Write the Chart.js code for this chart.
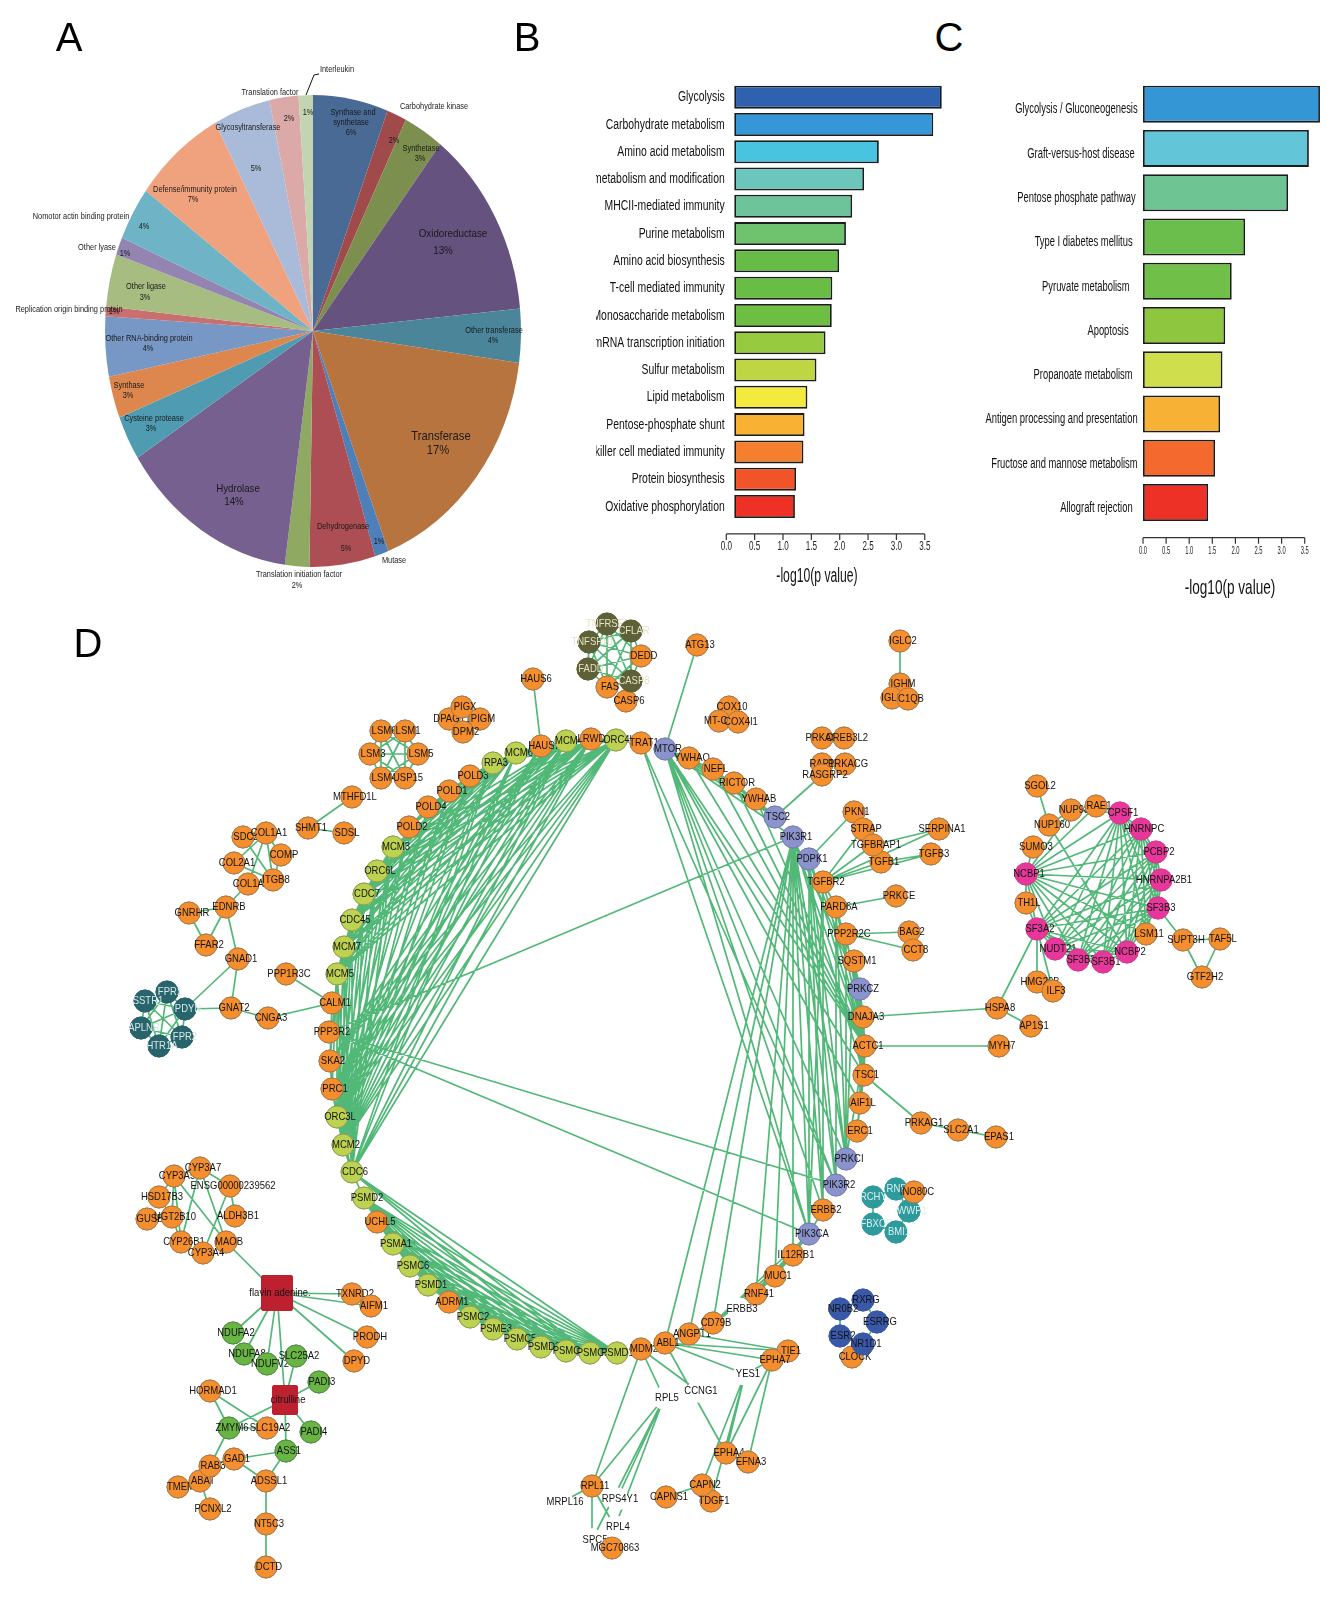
<!DOCTYPE html>
<html>
<head>
<meta charset="utf-8">
<title>Figure</title>
<script src="https://cdn.jsdelivr.net/npm/chart.js@4/dist/chart.umd.min.js"></script>
<style>
    body { margin: 0; background: #fff; }
    #page { position: relative; width: 1343px; height: 1600px; overflow: hidden; }
    canvas { position: absolute; }
    .letter { position: absolute; font: 40px "Liberation Sans", sans-serif; line-height: 40px; transform: translateX(-50%); color: #000; }
</style>
</head>
<body>
<div id="page">
    <canvas id="pieChart" width="626" height="662" style="left:0;top:0"></canvas>
    <canvas id="barB" width="349" height="540" style="left:596px;top:60px"></canvas>
    <canvas id="barC" width="370" height="560" style="left:960px;top:60px"></canvas>
    <canvas id="netChart" width="1343" height="1000" style="left:0;top:600px"></canvas>
    <div class="letter" style="left:69px;top:17px">A</div>
    <div class="letter" style="left:527px;top:17px">B</div>
    <div class="letter" style="left:949px;top:17px">C</div>
    <div class="letter" style="left:88px;top:623px">D</div>
</div>
<script>
// A - protein classes
const pieNames = ["Synthase and synthetase", "Carbohydrate kinase", "Synthetase", "Oxidoreductase", "Other transferase", "Transferase", "Mutase", "Dehydrogenase", "Translation initiation factor", "Hydrolase", "Cysteine protease", "Synthase", "Other RNA-binding protein", "Replication origin binding protein", "Other ligase", "Other lyase", "Nomotor actin binding protein", "Defense/immunity protein", "Glycosyltransferase", "Translation factor", "Interleukin"];
const pieValues = [5.83, 1.53, 3.11, 13, 3.69, 16.94, 1.06, 5.11, 1.89, 13.8, 3.06, 2.86, 4.11, 0.67, 3.58, 1.22, 3.67, 7.08, 4.42, 2.25, 1.11];
const pieColors = ["#4A6A96", "#A04A4C", "#7C8F4F", "#66527F", "#4A8599", "#B8743F", "#4F7FB8", "#AC4E53", "#8FA862", "#76608F", "#4F9CB2", "#DD874F", "#7797C4", "#C96F6F", "#A6BC80", "#9384B2", "#6FB3C6", "#F0A27E", "#A9BBD8", "#DBA9A8", "#C2D5B0"];
// text, x, y, size
const pieLabels = [
    ["Interleukin", 337, 70, 7.4], ["Translation factor", 270, 93, 7.4], ["1%", 308, 113, 7.4], ["2%", 289, 119, 7.4],
    ["Synthase and", 353, 113, 7.4], ["synthetase", 351, 123, 7.4], ["6%", 351, 133, 7.4], ["Carbohydrate kinase", 434, 107, 7.4],
    ["2%", 394, 141, 7.4], ["Synthetase", 421, 149, 7.4], ["3%", 420, 159, 7.4], ["Glycosyltransferase", 248, 128, 7.4], ["5%", 256, 169, 7.4],
    ["Oxidoreductase", 453, 234, 9.8], ["13%", 443, 251, 9.8], ["Defense/immunity protein", 195, 190, 7.4], ["7%", 193, 200, 7.4],
    ["Nomotor actin binding protein", 81, 217, 7.4], ["4%", 144, 227, 7.4], ["Other lyase", 97, 248, 7.4], ["1%", 125, 254, 7.4],
    ["Other ligase", 146, 287, 7.4], ["3%", 145, 298, 7.4], ["Replication origin binding protein", 69, 310, 7.4], ["1%", 114, 312, 7.4],
    ["Other RNA-binding protein", 149, 339, 7.4], ["4%", 148, 349, 7.4], ["Other transferase", 494, 331, 7.4], ["4%", 493, 341, 7.4],
    ["Synthase", 129, 386, 7.4], ["3%", 128, 396, 7.4], ["Cysteine protease", 154, 419, 7.4], ["3%", 151, 429, 7.4],
    ["Transferase", 441, 437, 11.2], ["17%", 438, 451, 11.2], ["Hydrolase", 238, 489, 9.7], ["14%", 234, 502, 9.7],
    ["Dehydrogenase", 343, 527, 7.4], ["5%", 346, 549, 7.4], ["1%", 379, 542, 7.4], ["Mutase", 394, 561, 7.4],
    ["Translation initiation factor", 299, 575, 7.4], ["2%", 297, 586, 7.4]
];

// B - GO terms
const goTerms = ["Glycolysis", "Carbohydrate metabolism", "Amino acid metabolism", "Protein metabolism and modification", "MHCII-mediated immunity", "Purine metabolism", "Amino acid biosynthesis", "T-cell mediated immunity", "Monosaccharide metabolism", "mRNA transcription initiation", "Sulfur metabolism", "Lipid metabolism", "Pentose-phosphate shunt", "Natural killer cell mediated immunity", "Protein biosynthesis", "Oxidative phosphorylation"];
const goValues = [3.80, 3.65, 2.69, 2.43, 2.22, 2.11, 1.99, 1.87, 1.86, 1.75, 1.59, 1.43, 1.38, 1.36, 1.23, 1.21];
const goColors = ["#2F62AE", "#3596D8", "#49C4E0", "#6CC6BC", "#6DC39A", "#6FC36E", "#66BC46", "#69BD45", "#6FBE44", "#97CA3E", "#BDD642", "#F3EA3F", "#F8B133", "#F47F2E", "#F05428", "#EE3124"];

// C - KEGG pathways
const keggTerms = ["Glycolysis / Gluconeogenesis", "Graft-versus-host disease", "Pentose phosphate pathway", "Type I diabetes mellitus", "Pyruvate metabolism", "Apoptosis", "Propanoate metabolism", "Antigen processing and presentation", "Fructose and mannose metabolism", "Allograft rejection"];
const keggValues = [3.83, 3.59, 3.14, 2.21, 1.92, 1.78, 1.72, 1.67, 1.56, 1.41];
const keggColors = ["#3596D6", "#62C6D8", "#6EC493", "#6CBE4C", "#6FBF48", "#8FC63F", "#CEDE4D", "#F7B134", "#F4692D", "#EE3127"];
const keggNudge = [0, -3, -2, -5, -8, -9, -5, 0, 0, -5];
const pTicks = [0, 0.5, 1, 1.5, 2, 2.5, 3, 3.5];

// D - network nodes: name, x, y, group
const ringNodes = [
    ["PSMD2",364,1198,"y"],["UCHL5",377,1222,"o"],["PSMA1",393,1244,"y"],["PSMC6",410,1266,"y"],["PSMD1",428,1285,"y"],["ADRM1",449,1302,"o"],["PSMC2",470,1317,"y"],["PSME3",493,1329,"y"],["PSMC5",517,1339,"y"],["PSMD3",541,1347,"y"],["PSMC1",566,1351,"y"],["PSMC3",590,1353,"y"],["PSMD10",617,1353,"y"],
    ["MDM2",641,1349,"o"],["ABL1",665,1343,"o"],["ANGPT1",689,1334,"o"],["CD79B",713,1323,"o"],
    ["CDC6",352,1172,"y"],["MCM2",343,1145,"y"],["ORC3L",337,1117,"y"],["PRC1",332,1089,"o"],["SKA2",330,1061,"o"],["PPP3R2",329,1032,"o"],["CALM1",332,1003,"o"],["MCM5",337,974,"y"],["MCM7",344,947,"y"],["CDC45",352,920,"y"],["CDC7",364,894,"y"],["ORC6L",377,871,"y"],["MCM3",393,847,"y"],["POLD2",409,827,"o"],["POLD4",428,807,"o"],["POLD1",449,791,"o"],["POLD3",470,776,"o"],["RPA3",493,763,"y"],["MCM6",516,753,"y"],["HAUS7",541,746,"o"],["MCM4",566,741,"y"],["LRWD1",591,739,"o"],["ORC4L",616,740,"y"],["TRAT1",641,743,"o"],
    ["MTOR",665,749,"l"],["YWHAQ",689,758,"o"],["NEFL",713,769,"o"],["RICTOR",734,783,"o"],["YWHAB",756,799,"o"],["TSC2",775,817,"l"],["PIK3R1",793,837,"l"],["PDPK1",809,859,"l"],["TGFBR2",823,882,"o"],["PARD6A",836,907,"o"],["PPP2R2C",846,934,"o"],["SQSTM1",854,961,"o"],["PRKCZ",860,989,"l"],["DNAJA3",863,1017,"o"],["ACTC1",865,1046,"o"],["TSC1",864,1075,"o"],["AIF1L",860,1103,"o"],["ERC1",857,1131,"o"],["PRKCI",846,1159,"l"],["PIK3R2",836,1185,"l"],["ERBB2",823,1210,"o"],["PIK3CA",809,1234,"l"],["IL12RB1",793,1255,"o"],["MUC1",775,1276,"o"],["RNF41",756,1294,"o"],["ERBB3",739,1309,"w"]
];
const topLeftNodes = [
    ["HAUS6",533,679,"o"],["DPAGT1",449,719,"o"],["PIGM",480,719,"o"],["DPM2",463,732,"o"],["PIGX",462,707,"o"],
    ["LSM6",381,731,"o"],["LSM1",405,731,"o"],["LSM3",370,754,"o"],["LSM5",418,754,"o"],["LSM4",381,778,"o"],["USP15",405,778,"o"],
    ["MTHFD1L",352,797,"o"],["SHMT1",308,828,"o"],["SDSL",344,833,"o"],["SDC2",243,837,"o"],["COL1A1",266,833,"o"],["COMP",281,855,"o"],["COL2A1",234,863,"o"],["COL1A2",248,884,"o"],["ITGB8",273,880,"o"],
    ["EDNRB",226,907,"o"],["GNRHR",189,913,"o"],["FFAR2",206,945,"o"],["GNAD1",238,959,"o"],["PPP1R3C",286,974,"o"],["GNAT2",231,1008,"o"],["CNGA3",268,1018,"o"],
    ["FPR1",167,992,"t"],["SSTR1",145,1001,"t"],["PDYN",185,1009,"t"],["APLNR",141,1028,"t"],["FPR2",182,1037,"t"],["HTR1A",159,1046,"t"]
];
const topRightNodes = [
    ["TNFRSF10",607,624,"d"],["CFLAR",631,631,"d"],["TNFSF10",589,642,"d"],["DEDD",641,656,"o"],["FADD",588,669,"d"],["FAS",607,687,"o"],["CASP6",626,701,"o"],["CASP8",631,681,"d"],
    ["ATG13",697,645,"o"],["COX10",729,707,"o"],["MT-CO2",719,721,"o"],["COX4I1",738,722,"o"],["IGLC2",900,641,"o"],["IGHM",900,684,"o"],["IGLC1",892,698,"o"],["C1QB",908,699,"o"],
    ["PRKACB",822,738,"o"],["CREB3L2",844,738,"o"],["RAP1A",822,764,"o"],["PRKACG",845,764,"o"],["RASGRP2",822,775,"o"],
    ["PKN1",854,812,"o"],["STRAP",863,829,"o"],["TGFB1",881,862,"o"],["TGFBRAP1",873,845,"o"],["SERPINA1",939,829,"o"],["TGFB3",931,854,"o"],["PRKCE",896,896,"o"],["BAG2",909,932,"o"],["CCT8",913,950,"o"]
];
const spliceNodes = [
    ["SGOL2",1037,786,"o"],["NUP160",1049,825,"o"],["NUP98",1071,810,"o"],["RAE1",1096,806,"o"],["SUMO3",1033,847,"o"],["TH1L",1026,903,"o"],["LSM11",1146,934,"o"],
    ["CPSF1",1120,813,"p"],["HNRNPC",1141,829,"p"],["PCBP2",1156,852,"p"],["HNRNPA2B1",1161,880,"p"],["SF3B3",1158,908,"p"],["NCBP1",1026,874,"p"],["SF3A2",1037,929,"p"],["NUDT21",1055,949,"p"],["SF3B2",1078,960,"p"],["SF3B1",1103,962,"p"],["NCBP2",1127,952,"p"],
    ["SUPT3H",1183,940,"o"],["TAF5L",1220,939,"o"],["GTF2H2",1202,977,"o"],["HMG20B",1037,982,"o"],["ILF3",1053,991,"o"],["HSPA8",997,1008,"o"],["AP1S1",1031,1026,"o"],["MYH7",999,1046,"o"],["PRKAG1",921,1123,"o"],["SLC2A1",958,1130,"o"],["EPAS1",996,1137,"o"]
];
const lowerRightNodes = [
    ["RCHY1",873,1197,"c"],["RNF2",896,1189,"c"],["WWP1",909,1211,"c"],["INO80C",914,1192,"o"],["FBXO5",873,1224,"c"],["BMI1",896,1232,"c"],
    ["CLOCK",852,1357,"o"],["RXRG",863,1300,"n"],["NR0B2",840,1309,"n"],["ESRRG",877,1322,"n"],["ESR2",840,1336,"n"],["NR1D1",863,1344,"n"],
    ["TIE1",788,1351,"o"],["EPHA7",772,1360,"o"],["YES1",745,1374,"w"],["CCNG1",698,1391,"w"],["RPL5",664,1398,"w"],["EPHA4",726,1453,"o"],["EFNA3",748,1462,"o"],["TDGF1",711,1501,"o"],["CAPN2",702,1485,"o"],["CAPNS1",666,1497,"o"],
    ["RPL11",592,1486,"o"],["MRPL16",562,1502,"w"],["RPS4Y1",617,1499,"w"],["RPL4",615,1527,"w"],["SPC5",592,1540,"w"],["MGC70863",612,1548,"o"]
];
const lowerLeftNodes = [
    ["CYP3A5",174,1176,"o"],["CYP3A7",200,1168,"o"],["ENSG00000239562",230,1186,"o"],["HSD17B3",159,1197,"o"],["GUSB",147,1219,"o"],["UGT2B10",172,1217,"o"],["ALDH3B1",235,1216,"o"],["CYP26B1",181,1242,"o"],["MAOB",226,1242,"o"],["CYP3A4",203,1253,"o"],
    ["flavin adenine.",277,1293,"r"],["TXNRD2",352,1294,"o"],["AIFM1",371,1306,"o"],["PRODH",367,1337,"o"],["DPYD",354,1361,"o"],["NDUFA2",233,1333,"g"],["NDUFA8",244,1354,"g"],["NDUFV2",267,1364,"g"],["SLC25A2",296,1356,"g"],["PADI3",319,1382,"g"],
    ["citrulline",285,1400,"s"],["HORMAD1",210,1391,"o"],["ZMYM6",229,1428,"g"],["SLC19A2",267,1428,"o"],["PADI4",311,1432,"g"],["ASS1",286,1451,"g"],["TMEM",178,1487,"o"],["ABAT",200,1481,"o"],["RAB3",210,1466,"o"],["GAD1",234,1459,"o"],["ADSSL1",266,1481,"o"],["PCNXL2",210,1509,"o"],["NT5C3",266,1524,"o"],["DCTD",266,1567,"o"]
];

// D - edges: every pair inside a clique, one hub to many, or plain chains
const cliques = [
    ["MCM2","MCM3","MCM4","MCM5","MCM6","MCM7","CDC6","CDC7","CDC45","ORC3L","ORC4L","ORC6L","LRWD1","RPA3"],
    ["PSMD2","UCHL5","PSMA1","PSMC6","PSMD1","ADRM1","PSMC2","PSME3","PSMC5","PSMD3","PSMC1","PSMC3","PSMD10"],
    ["NCBP1","CPSF1","HNRNPC","PCBP2","HNRNPA2B1","SF3B3","NCBP2","SF3B1","SF3B2","NUDT21","SF3A2"],
    ["LSM6","LSM1","LSM3","LSM5","LSM4","USP15"],
    ["TNFRSF10","CFLAR","TNFSF10","FADD","FAS","CASP8","DEDD"],
    ["FPR1","SSTR1","PDYN","APLNR","FPR2","HTR1A"]
];
const stars = [
    ["POLD1","POLD2","POLD3","POLD4","RPA3","MCM2","ORC3L","MCM5"],
    ["POLD2","POLD3","POLD4","RPA3","MCM2","ORC3L"],
    ["POLD3","POLD4","RPA3","MCM2","ORC3L"],
    ["POLD4","RPA3","MCM2","ORC3L"],
    ["HAUS7","MCM6","ORC3L","MCM2","PRC1","SKA2","HAUS6"],
    ["PRC1","ORC4L","MCM4","LRWD1","ORC3L","CDC6","MCM5"],
    ["SKA2","ORC4L","MCM4","LRWD1","PRC1","MCM5","CALM1"],
    ["CDC6","PSMD2","PSMC1","PSMC3","PSMD10"],
    ["MTOR","YWHAQ","NEFL","RICTOR","YWHAB","TSC2","PIK3R1","ACTC1","TSC1","AIF1L","PRKCI","PIK3R2","ERBB2","PIK3CA","ATG13"],
    ["TRAT1","PIK3CA","PIK3R2"],
    ["YWHAQ","TSC2","ACTC1"],["NEFL","TSC2","ACTC1"],["RICTOR","TSC2","ACTC1"],["YWHAB","TSC2","ACTC1"],
    ["PIK3R1","ABL1","ANGPT1","CD79B","RNF41","MUC1","IL12RB1","PIK3CA","PIK3R2","ERBB2","PRKCI","TSC1","ACTC1","PRKCZ","PPP3R2"],
    ["PDPK1","PRKCZ","PRKCI","PIK3CA","PIK3R2","ACTC1","PKN1","ERBB2"],
    ["PPP3R2","PIK3R2","PIK3CA"],
    ["TGFBR2","STRAP","TGFBRAP1","TGFB1","TGFB3","SERPINA1","PIK3CA","ERBB2","ACTC1"],
    ["PARD6A","TGFBR2","PRKCZ","PRKCI","PIK3R2","ACTC1","PRKCE"],
    ["PPP2R2C","PRKCI","BAG2","CCT8","ACTC1"],
    ["SQSTM1","PRKCZ","PRKCI","ACTC1","TSC1"],
    ["PRKCZ","DNAJA3","ACTC1","TSC1","AIF1L"],
    ["DNAJA3","ACTC1","TSC1","AIF1L","HSPA8"],
    ["ACTC1","TSC1","AIF1L","ERC1","PRKCI","MYH7"],
    ["TSC1","AIF1L","ERC1","PRKAG1"],
    ["PIK3CA","CD79B","ERBB3","RNF41","MUC1","IL12RB1","ERBB2"],
    ["IL12RB1","CD79B","ERBB3","RNF41","MUC1"],
    ["MUC1","CD79B","ERBB3","RNF41"],
    ["RNF41","CD79B","ERBB3"],
    ["ABL1","ANGPT1","MDM2","EPHA7","YES1","EPHA4","TIE1"],
    ["ANGPT1","TIE1","CD79B"],
    ["MDM2","RPL5","CCNG1","RPL11"],
    ["RPL5","RPL11","RPS4Y1","RPL4","SPC5"],
    ["RPL11","MRPL16","RPL4","SPC5"],
    ["YES1","EPHA7","EPHA4","CAPN2","TDGF1"],
    ["EPHA7","EPHA4","EFNA3"],
    ["CPSF1","RAE1","NUP98","LSM11"],
    ["NCBP1","SUMO3","TH1L","NUP98","RAE1"],
    ["NUP160","SGOL2","NUP98","NCBP2"],
    ["LSM11","HNRNPC","PCBP2","HNRNPA2B1","NCBP1"],
    ["SF3A2","TH1L","HMG20B","ILF3","HSPA8"],
    ["SUPT3H","SF3B3","TAF5L","GTF2H2"],
    ["COL1A1","SDC2","COL2A1","COMP","ITGB8","COL1A2"],
    ["ITGB8","SDC2","COMP","COL2A1","COL1A2"],
    ["EDNRB","COL1A2","GNRHR","FFAR2","GNAD1"],
    ["GNAD1","PDYN","GNAT2"],
    ["GNAT2","PDYN","CNGA3"],
    ["CALM1","CNGA3","PPP1R3C"],
    ["SHMT1","MTHFD1L","SDSL"],
    ["CYP3A7","CYP3A5","ENSG00000239562","MAOB","CYP26B1"],
    ["CYP3A5","MAOB","HSD17B3","UGT2B10","CYP26B1"],
    ["ENSG00000239562","ALDH3B1","CYP3A4"],
    ["UGT2B10","GUSB","HSD17B3","CYP26B1"],
    ["flavin adenine.","MAOB","TXNRD2","AIFM1","PRODH","DPYD","NDUFA2","NDUFA8","NDUFV2","citrulline"],
    ["citrulline","SLC25A2","PADI3","PADI4","ZMYM6","ASS1"],
    ["HORMAD1","ZMYM6","SLC19A2"],
    ["ZMYM6","SLC19A2","RAB3"],
    ["ABAT","RAB3","TMEM","PCNXL2"],
    ["GAD1","RAB3","ASS1","ADSSL1"],
    ["ADSSL1","ASS1","NT5C3"]
];
const rings = [
    ["RCHY1","RNF2","WWP1","BMI1","FBXO5","RCHY1"],
    ["RXRG","ESRRG","NR1D1","ESR2","NR0B2","RXRG"],
    ["IGLC2","IGHM"],["TSC2","RASGRP2"],["PRKAG1","SLC2A1","EPAS1"],["HSPA8","AP1S1"],["CAPN2","CAPNS1"],["NT5C3","DCTD"],["TAF5L","GTF2H2"],["TGFB1","TGFB3"],["TGFBRAP1","SERPINA1"],["GNRHR","FFAR2"]
];

const groupFill = { o: "#F58E2C", y: "#BDD24E", g: "#69B544", l: "#8B93CC", p: "#E7379A", d: "#5E6137", t: "#27646B", c: "#2F9A9C", n: "#3A58A8", w: "#FFFFFF" };
const groupEdge = { o: "#A67B50", y: "#8F9F58", g: "#4F8A48", l: "#777FB0", p: "#D83A92", d: "#5E6137", t: "#27646B", c: "#2F9A9C", n: "#3A58A8", w: "#FFFFFF" };
const lightLabel = { d: "#E6E2C2", t: "#D8E8E8", c: "#D8F0F0" };

const SANS = '"Liberation Sans", Arial, sans-serif';

function tallText(ctx, text, x, y, size, stretch, align, color) {
    ctx.save();
    ctx.translate(x, y);
    ctx.scale(1, stretch);
    ctx.font = size + "px " + SANS;
    ctx.textAlign = align || "center";
    ctx.textBaseline = "middle";
    ctx.fillStyle = color || "#111";
    ctx.fillText(text, 0, 0);
    ctx.restore();
}

function roundedBox(w, h, color) {
    const c = document.createElement("canvas");
    c.width = w;
    c.height = h;
    const g = c.getContext("2d");
    g.fillStyle = color;
    g.beginPath();
    g.roundRect(0, 0, w, h, 3);
    g.fill();
    return c;
}

// pie, the reference is squeezed into an ellipse
const PIE_STRETCH = 236 / 208;
new Chart(document.getElementById("pieChart"), {
    type: "pie",
    data: { labels: pieNames, datasets: [{ data: pieValues, backgroundColor: pieColors, borderWidth: 0, radius: 208 }] },
    options: {
        responsive: false,
        animation: false,
        layout: { padding: 0 },
        plugins: { legend: { display: false }, tooltip: { enabled: false } }
    },
    plugins: [{
        id: "ellipse",
        beforeDatasetsDraw(chart) {
            const ctx = chart.ctx;
            const cy = (chart.chartArea.top + chart.chartArea.bottom) / 2;
            ctx.save();
            ctx.translate(0, cy);
            ctx.scale(1, PIE_STRETCH);
            ctx.translate(0, -cy);
        },
        afterDatasetsDraw(chart) {
            const ctx = chart.ctx;
            ctx.restore();
            pieLabels.forEach(l => tallText(ctx, l[0], l[1], l[2], l[3], 1.12, "center", "#1a1a1a"));
            // leader line to Interleukin
            ctx.beginPath();
            ctx.moveTo(306, 95);
            ctx.lineTo(314, 75);
            ctx.lineTo(319, 74);
            ctx.strokeStyle = "#111";
            ctx.lineWidth = 1;
            ctx.stroke();
        }
    }]
});

function drawBars(id, labels, values, colors, look) {
    new Chart(document.getElementById(id), {
        type: "bar",
        data: {
            labels: labels,
            datasets: [{
                data: values,
                base: look.base,
                backgroundColor: colors,
                borderColor: "#1c1c1c",
                borderWidth: 1.8,
                borderSkipped: false,
                barPercentage: look.barPercentage,
                categoryPercentage: 1
            }]
        },
        options: {
            indexAxis: "y",
            responsive: false,
            animation: false,
            layout: { padding: look.padding },
            scales: {
                x: { display: false, min: 0, max: look.max },
                y: { display: false }
            },
            plugins: { legend: { display: false }, tooltip: { enabled: false } }
        },
        plugins: [{
            id: "axisText",
            afterDraw(chart) {
                const ctx = chart.ctx;
                const xs = chart.scales.x;
                const ys = chart.scales.y;
                labels.forEach((name, i) => {
                    const nudge = look.nudge ? look.nudge[i] : 0;
                    tallText(ctx, name, look.labelRight + nudge, ys.getPixelForValue(i) + look.labelDrop, look.labelSize, look.labelStretch, "right", "#111");
                });
                ctx.strokeStyle = "#333";
                ctx.lineWidth = 1.2;
                ctx.beginPath();
                ctx.moveTo(xs.getPixelForValue(0), look.axisY);
                ctx.lineTo(xs.getPixelForValue(3.5), look.axisY);
                pTicks.forEach(t => {
                    ctx.moveTo(xs.getPixelForValue(t), look.axisY);
                    ctx.lineTo(xs.getPixelForValue(t), look.axisY + 6);
                });
                ctx.stroke();
                pTicks.forEach(t => {
                    tallText(ctx, t.toFixed(1), xs.getPixelForValue(t), look.axisY + look.tickGap, look.tickSize, look.tickStretch, "center", "#222");
                });
                tallText(ctx, "-log10(p value)", look.titleX, look.titleY, look.titleSize, look.titleStretch, "center", "#111");
            }
        }]
    });
}

drawBars("barB", goTerms, goValues, goColors, {
    base: 0.14, max: 3.85, barPercentage: 0.843,
    padding: { left: 130.3, right: 0.4, top: 23.5, bottom: 79.9 },
    labelRight: 128.7, labelDrop: 0, labelSize: 10.4, labelStretch: 1.45,
    axisY: 473.9, tickGap: 12.8, tickSize: 8.1, tickStretch: 1.6,
    titleX: 221, titleY: 517, titleSize: 12.2, titleStretch: 1.6
});

drawBars("barC", keggTerms, keggValues, keggColors, {
    base: 0, max: 3.9, barPercentage: 0.836, nudge: keggNudge,
    padding: { left: 183, right: 6.8, top: 22, bottom: 95.3 },
    labelRight: 177.6, labelDrop: 5.5, labelSize: 9.4, labelStretch: 1.47,
    axisY: 477.7, tickGap: 12.9, tickSize: 5.8, tickStretch: 1.9,
    titleX: 270, titleY: 528.7, titleSize: 13.6, titleStretch: 1.45
});

// network
const allNodes = [].concat(lowerLeftNodes, topLeftNodes, topRightNodes, spliceNodes, lowerRightNodes, ringNodes);
const nodeSpot = {};
allNodes.forEach(n => { nodeSpot[n[0]] = { x: n[1], y: n[2] }; });

const edgePairs = [];
cliques.forEach(group => {
    group.forEach((a, i) => group.slice(i + 1).forEach(b => edgePairs.push([a, b])));
});
stars.forEach(s => s.slice(1).forEach(b => edgePairs.push([s[0], b])));
rings.forEach(r => r.slice(1).forEach((b, i) => edgePairs.push([r[i], b])));

const edgePoints = [];
edgePairs.forEach(pair => {
    if (!nodeSpot[pair[0]] || !nodeSpot[pair[1]]) {
        console.log("missing node", pair);
        return;
    }
    edgePoints.push(nodeSpot[pair[0]], nodeSpot[pair[1]], { x: NaN, y: NaN });
});

const flavinBox = roundedBox(32, 36, "#BD2130");
const citrullineBox = roundedBox(26, 30, "#BD2130");

function nodeStyle(n) {
    if (n[3] === "r") return flavinBox;
    if (n[3] === "s") return citrullineBox;
    return "circle";
}

new Chart(document.getElementById("netChart"), {
    type: "scatter",
    data: {
        datasets: [
            {
                data: allNodes.map(n => ({ x: n[1], y: n[2] })),
                pointRadius: 11,
                pointBorderWidth: 1,
                pointStyle: allNodes.map(nodeStyle),
                pointBackgroundColor: allNodes.map(n => groupFill[n[3]] || "#BD2130"),
                pointBorderColor: allNodes.map(n => groupEdge[n[3]] || "#BD2130"),
                showLine: false
            },
            {
                type: "line",
                data: edgePoints,
                borderColor: "#52B878",
                borderWidth: 1.7,
                pointRadius: 0,
                tension: 0,
                spanGaps: false,
                fill: false
            }
        ]
    },
    options: {
        responsive: false,
        animation: false,
        layout: { padding: 0, autoPadding: false },
        scales: {
            x: { type: "linear", display: false, min: 0, max: 1343 },
            y: { type: "linear", display: false, min: 600, max: 1600, reverse: true }
        },
        plugins: { legend: { display: false }, tooltip: { enabled: false } }
    },
    plugins: [{
        id: "nodeLabels",
        afterDatasetsDraw(chart) {
            // node then its label, a later node covers the label before it
            const ctx = chart.ctx;
            const meta = chart.getDatasetMeta(0);
            meta.data.forEach((pt, i) => {
                const n = allNodes[i];
                pt.draw(ctx, chart.chartArea);
                tallText(ctx, n[0], pt.x + 3, pt.y, 9.5, 1.15, "center", lightLabel[n[3]] || "#141414");
            });
        }
    }]
});
</script>
</body>
</html>
